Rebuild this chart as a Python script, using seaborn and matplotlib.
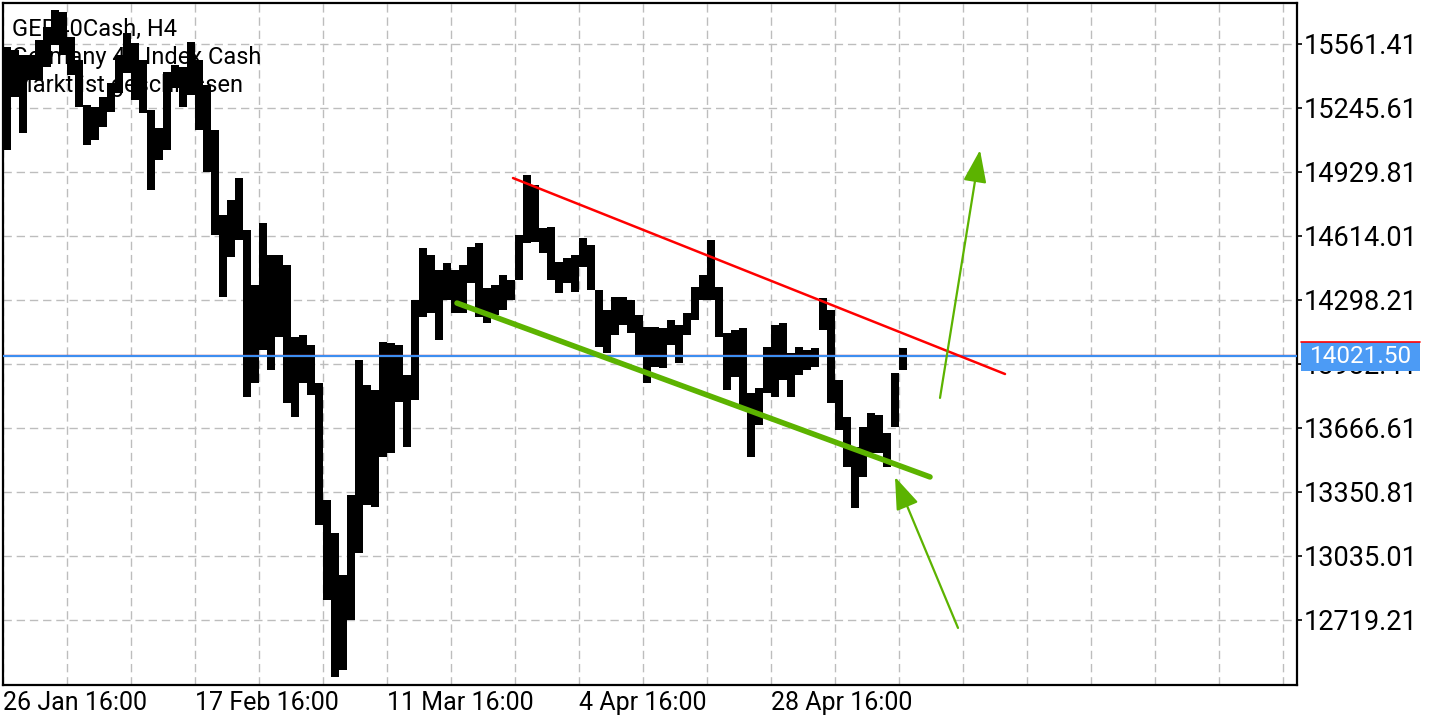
import pandas as pd
import matplotlib
matplotlib.use('Agg')
import matplotlib.pyplot as plt
import matplotlib.ticker as mticker
import matplotlib.transforms as mtransforms
from matplotlib.patches import Rectangle
import seaborn as sns

# H4 bars grouped by 4, high / low of each group
bar_high = [15547, 15532, 15507, 15507, 15581, 15645, 15729, 15719, 15596, 15482,
            15260, 15251, 15300, 15369, 15507, 15616, 15566, 15482, 15236, 15147,
            15423, 15458, 15448, 15571, 15482, 15359, 15137, 14718, 14792, 14900,
            14644, 14372, 14678, 14520, 14520, 14471, 14116, 14125, 14076, 13889,
            13311, 13149, 12941, 13336, 14002, 13879, 13854, 14091, 14086, 14076,
            13928, 14298, 14555, 14520, 14446, 14481, 14446, 14471, 14560, 14579,
            14357, 14372, 14422, 14397, 14619, 14915, 14866, 14653, 14658, 14486,
            14505, 14520, 14604, 14570, 14348, 14249, 14313, 14313, 14298, 14224,
            14165, 14165, 14160, 14200, 14175, 14234, 14362, 14422, 14594, 14362,
            14135, 14150, 14160, 13839, 13864, 14066, 14175, 14185, 14037, 14066,
            14051, 14061, 14308, 14249, 13903, 13721, 13573, 13672, 13741, 13731,
            13642, 13938, 14061]
bar_low = [15038, 15300, 15122, 15384, 15384, 15448, 15556, 15507, 15408, 15251,
           15063, 15088, 15152, 15226, 15320, 15418, 15285, 15221, 14841, 14989,
           15038, 15344, 15251, 15310, 15137, 14930, 14619, 14313, 14510, 14594,
           13820, 13889, 14051, 13953, 14116, 13790, 13721, 13889, 13829, 13188,
           12818, 12438, 12472, 12719, 13050, 13287, 13277, 13523, 13543, 13795,
           13573, 13805, 14214, 14234, 14101, 14298, 14234, 14234, 14382, 14214,
           14185, 14224, 14249, 14298, 14397, 14579, 14584, 14530, 14397, 14333,
           14382, 14338, 14461, 14348, 14066, 14037, 14125, 14175, 14135, 14017,
           13889, 13968, 13963, 14076, 13987, 14125, 14200, 14298, 14298, 14116,
           13854, 13918, 13770, 13523, 13681, 13839, 13820, 13903, 13820, 13928,
           13953, 13968, 14150, 13790, 13657, 13474, 13272, 13425, 13543, 13543,
           13474, 13672, 13953]
bars_per_group = 4

tick_prices = [12719.21, 13035.01, 13350.81, 13666.61, 13982.41,
               14298.21, 14614.01, 14929.81, 15245.61, 15561.41]
date_labels = ['26 Jan 16:00', '17 Feb 16:00', '11 Mar 16:00', '4 Apr 16:00', '28 Apr 16:00']
date_bars = [0, 96, 192, 288, 384]

bid_price = 14021.50
ask_price = 14026.5

# trend objects: (bar index, price)
channel_top = pd.DataFrame({'bar': [255, 501], 'price': [14900, 13933]})
channel_bottom = pd.DataFrame({'bar': [227, 463.5], 'price': [14283, 13425]})
arrow_up = [(468.5, 13815), (488.5, 15038)]
arrow_in = [(477.5, 12680), (446, 13425)]

title_lines = ['GER40Cash, H4', 'Germany 40 Index Cash', 'Markt ist geschlossen']

sns.set_style('white')
plt.rcParams['font.family'] = ['Roboto', 'DejaVu Sans']

fig = plt.figure(figsize=(14.4, 7.2), dpi=100)
ax = fig.add_axes([3 / 1440, 1 - 685 / 720, 1294 / 1440, 682 / 720])
ymin, ymax = 12398.4, 15763.7
ax.set_xlim(0, 647)
ax.set_ylim(ymin, ymax)

green = '#5cb300'

# price bars as one stepped high/low band, each group spans 4 bars
edges = [bars_per_group * k for k in range(len(bar_high) + 1)]
ax.fill_between(edges, bar_low + bar_low[-1:], bar_high + bar_high[-1:],
                step='post', color='black', lw=0, zorder=3)

# horizontal price lines
ax.axhline(ask_price, color='#ff0000', lw=0.9, zorder=4)
ax.axhline(bid_price, color='#3d8ef0', lw=1.6, zorder=4)

# channel lines
sns.lineplot(data=channel_top, x='bar', y='price', color='#ff0000', lw=1.8, ax=ax, zorder=5)
sns.lineplot(data=channel_bottom, x='bar', y='price', color=green, lw=4, ax=ax, zorder=5)

for tail, tip in [arrow_up, arrow_in]:
    ax.annotate('', xy=tip, xytext=tail,
                arrowprops=dict(arrowstyle='-|>,head_length=1.0,head_width=0.36',
                                mutation_scale=20, color=green, lw=1.6,
                                shrinkA=0, shrinkB=0), zorder=6)

# grid
ax.set_yticks(tick_prices)
ax.set_yticklabels([f'{p:.2f}' for p in tick_prices])
ax.set_xticks(date_bars)
ax.set_xticklabels(date_labels, ha='left')
ax.xaxis.set_minor_locator(mticker.MultipleLocator(32))
ax.grid(True, which='both', axis='x', color='#bdbdbd', lw=1, linestyle=(0, (6, 3.5)))
ax.grid(True, which='major', axis='y', color='#bdbdbd', lw=1, linestyle=(0, (6, 3.5)))
ax.set_axisbelow(True)

ax.yaxis.tick_right()
ax.tick_params(axis='y', which='major', direction='out', length=3.5, width=1.2,
               pad=1.5, labelsize=19.5, colors='black')
ax.tick_params(axis='x', which='major', direction='out', length=3.5, width=1.2,
               pad=0.5, labelsize=18, colors='black')
ax.tick_params(axis='x', which='minor', length=0)
ax.set_xlabel('')
ax.set_ylabel('')
for s in ax.spines.values():
    s.set_color('black')
    s.set_linewidth(1.6)

# text block top left
for i, t in enumerate(title_lines):
    ax.text(9 / 1294, 1 - (33 + 28 * i) / 682, t, transform=ax.transAxes,
            fontsize=17, color='black', va='baseline', ha='left', zorder=2)

# bid price label on the right axis, covering the 13982.41 tick label
ppp = (ymax - ymin) / 682
trans = mtransforms.blended_transform_factory(ax.transAxes, ax.transData)
box = Rectangle((1.0031, bid_price - 15 * ppp), 0.092, 29 * ppp, transform=trans,
                facecolor='#4c9bf5', edgecolor='none', clip_on=False, zorder=10)
ax.add_patch(box)
ax.plot([1.0031, 1.0951], [bid_price + 14 * ppp] * 2, transform=trans,
        color='#ff0000', lw=1.2, clip_on=False, zorder=11)
ax.text(1.0491, bid_price - 0.5 * ppp, f'{bid_price:.2f}', transform=trans,
        ha='center', va='center', fontsize=17.5, color='white', zorder=12)

fig.savefig('out.png', dpi=100)
